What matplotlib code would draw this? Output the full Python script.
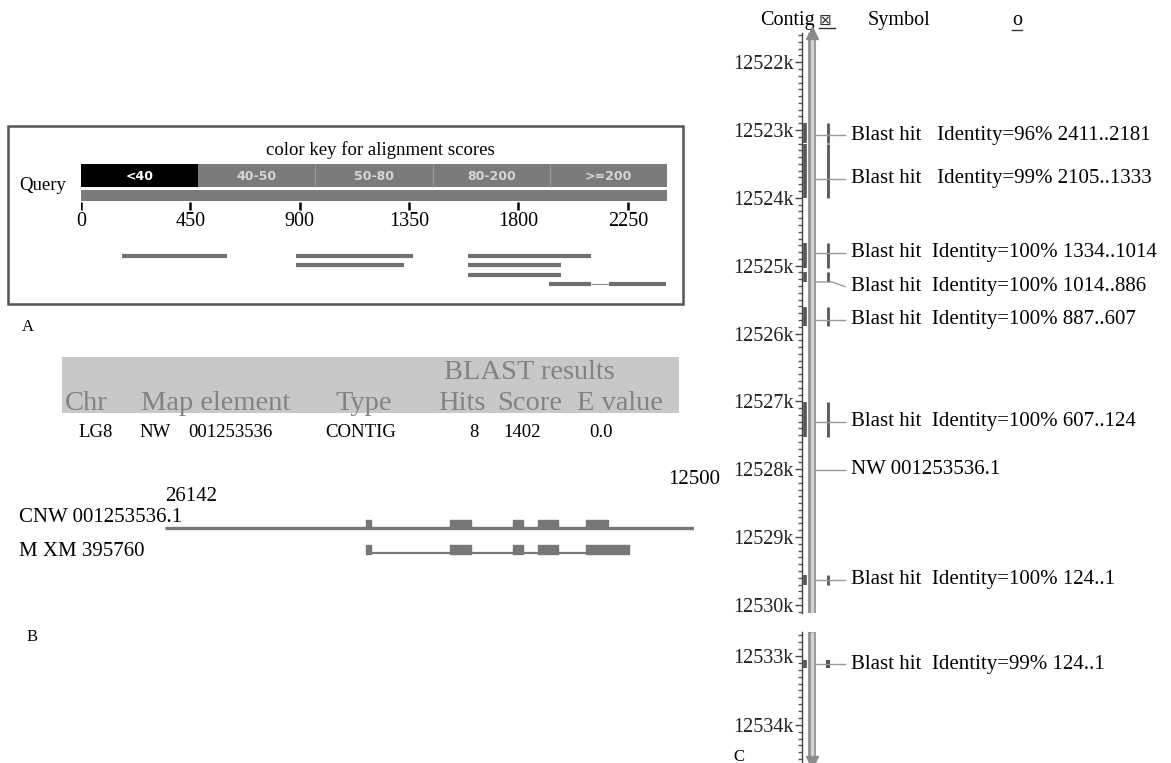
import numpy as np
import matplotlib
matplotlib.use("Agg")
import matplotlib.pyplot as plt
from matplotlib.patches import Rectangle

plt.rcParams['font.family'] = ['Liberation Serif', 'DejaVu Serif']

W, H = 1171, 763

# --- panel A: query coverage ---
query_len = 2411
key_labels = ['<40', '40-50', '50-80', '80-200', '>=200']
query_ticks = [0, 450, 900, 1350, 1800, 2250]
hit_rows = [0, 0, 1, 0, 1, 2]
hit_from = [168, 884, 884, 1594, 1594, 1594]
hit_to = [600, 1368, 1327, 2100, 1973, 1973]
split_hit = [(1927, 2100), (2174, 2408)]  # last row, two pieces

# --- panel B: table and gene model ---
header_top = 'BLAST results'
header_cols = ['Chr', 'Map element', 'Type', 'Hits', 'Score', 'E value']
row_vals = ['LG8', 'NW', '001253536', 'CONTIG', '8', '1402', '0.0']
contig_start, contig_end = 26142, 12500
contig_name = 'CNW 001253536.1'
mrna_name = 'M XM 395760'
contig_exons = [(20958, 20829), (18792, 18251), (17167, 16910),
                (16523, 16420), (16394, 16007), (15285, 14717)]
mrna_exons = [(20958, 20829), (18792, 18251), (17167, 16910),
              (16523, 16420), (16394, 16007), (15285, 14176)]
mrna_span = (20932, 14176)

# --- panel C: contig map (kb) ---
map_ticks_top = list(range(12522, 12531))
map_ticks_bot = [12533, 12534]
hit_start = [12522.90, 12523.21, 12524.67, 12525.09, 12525.61, 12527.01, 12529.56]
hit_end = [12523.19, 12524.00, 12525.03, 12525.24, 12525.89, 12527.52, 12529.70]
hit_label_kb = [12523.075, 12523.72, 12524.81, 12525.31, 12525.80, 12527.30, 12529.63]
hit_text = ['Blast hit   Identity=96% 2411..2181',
            'Blast hit   Identity=99% 2105..1333',
            'Blast hit  Identity=100% 1334..1014',
            'Blast hit  Identity=100% 1014..886',
            'Blast hit  Identity=100% 887..607',
            'Blast hit  Identity=100% 607..124',
            'Blast hit  Identity=100% 124..1']
nw_label = 'NW 001253536.1'
nw_kb = 12528.01
low_hit = (12533.06, 12533.17)
low_label_kb = 12533.12
low_text = 'Blast hit  Identity=99% 124..1'

fig = plt.figure(figsize=(W / 100, H / 100), dpi=100)


def px_axes(x0, y0, x1, y1):
    return fig.add_axes([x0 / W, 1 - y1 / H, (x1 - x0) / W, (y1 - y0) / H])


bg = px_axes(0, 0, W, H)
bg.set_xlim(0, W)
bg.set_ylim(H, 0)
bg.axis('off')

# ---------------- A ----------------
bg.add_patch(Rectangle((8, 126), 675, 178, fill=False, ec='#555555', lw=1.8))
bg.text(380, 150, 'color key for alignment scores', ha='center', va='center', fontsize=13.5)
bg.text(19, 186, 'Query', ha='left', va='center', fontsize=13.5)
bg.text(22, 327, 'A', ha='left', va='center', fontsize=12)

ax_q = px_axes(81, 120, 667, 300)
ax_q.set_xlim(0, query_len)
ax_q.set_ylim(300, 120)
ax_q.axis('off')
edges = np.linspace(0, query_len, len(key_labels) + 1)
for i, lab in enumerate(key_labels):
    c = 'black' if i == 0 else '#7b7b7b'
    ax_q.barh(175.5, edges[i + 1] - edges[i], left=edges[i], height=23, color=c, ec='none')
    ax_q.text((edges[i] + edges[i + 1]) / 2, 176, lab, ha='center', va='center',
              family='DejaVu Sans', fontweight='bold', fontsize=9,
              color='white' if i == 0 else '#d6d6d6')
    if i > 1:
        ax_q.vlines(edges[i], 164, 187, color='#9a9a9a', lw=0.8)
ax_q.barh(195.5, query_len, left=0, height=11, color='#7b7b7b', ec='none')
ax_q.vlines(query_ticks, 202, 210, color='black', lw=1.8)
for t in query_ticks:
    ax_q.text(t, 222, str(t), ha='center', va='center', fontsize=14.5)
for r, a, b in zip(hit_rows, hit_from, hit_to):
    ax_q.hlines(256 + 9.3 * r, a, b, color='#707070', lw=3)
y4 = 256 + 9.3 * 3
for a, b in split_hit:
    ax_q.hlines(y4, a, b, color='#707070', lw=3)
ax_q.hlines(y4, split_hit[0][1], split_hit[1][0], color='#909090', lw=0.8)

# ---------------- B ----------------
bg.add_patch(Rectangle((62, 357), 617, 56, color='#c8c8c8', ec='none'))
bg.text(444, 379, header_top, ha='left', va='baseline', fontsize=20.5, color='#828282')
head_x = [65, 141, 335, 438, 497, 577]
for x, s in zip(head_x, header_cols):
    bg.text(x, 410, s, ha='left', va='baseline', fontsize=20.5, color='#828282')
row_x = [78, 139, 188, 325, 469, 503, 589]
for x, s in zip(row_x, row_vals):
    bg.text(x, 437, s, ha='left', va='baseline', fontsize=13.5)

bg.text(165, 501, str(contig_start), ha='left', va='baseline', fontsize=15)
bg.text(668, 484, str(contig_end), ha='left', va='baseline', fontsize=15)
bg.text(19, 522, contig_name, ha='left', va='baseline', fontsize=15)
bg.text(19, 556, mrna_name, ha='left', va='baseline', fontsize=15)
bg.text(27, 637, 'B', ha='left', va='center', fontsize=12)

ax_g = px_axes(165, 500, 694, 570)
ax_g.set_xlim(contig_start, contig_end)
ax_g.set_ylim(570, 500)
ax_g.axis('off')
ax_g.hlines(527.5, contig_start, contig_end, color='#777777', lw=2.4)
ax_g.broken_barh([(b, a - b) for a, b in contig_exons], (520, 8), color='#777777')
ax_g.hlines(552.5, mrna_span[0], mrna_span[1], color='#777777', lw=1.6)
ax_g.broken_barh([(b, a - b) for a, b in mrna_exons], (545, 8.5), color='#777777')

# ---------------- C ----------------
bg.text(760, 25, 'Contig', ha='left', va='baseline', fontsize=14.5)
bg.text(819, 25, '\u22a0', ha='left', va='baseline', fontsize=11, family='DejaVu Sans', color='#333333')
bg.plot([819, 835], [28, 28], color='#333333', lw=1)
bg.text(868, 25, 'Symbol', ha='left', va='baseline', fontsize=14.5)
bg.text(1012, 25, 'o', ha='left', va='baseline', fontsize=14.5)
bg.plot([1012, 1022], [30, 30], color='#333333', lw=1)
bg.text(733, 757, 'C', ha='left', va='center', fontsize=12)


def map_axes(y0, y1, klo, khi, ticks):
    ax = px_axes(802, y0, W, y1)
    ax.set_xlim(802, W)
    ax.set_ylim(khi, klo)
    for s in ['top', 'right', 'bottom']:
        ax.spines[s].set_visible(False)
    ax.spines['left'].set_color('#444444')
    ax.spines['left'].set_linewidth(1)
    ax.set_xticks([])
    ax.set_yticks(ticks)
    ax.set_yticklabels([f'{t}k' for t in ticks])
    ax.set_yticks(np.arange(np.ceil(klo * 10) / 10, khi, 0.1), minor=True)
    ax.tick_params(axis='y', which='major', length=5, width=1, color='#444444',
                   labelsize=14.5, pad=1, labelcolor='#222222')
    ax.tick_params(axis='y', which='minor', length=3, width=1, color='#555555')
    ax.patch.set_alpha(0)
    # contig bar
    ax.vlines(812, klo, khi, color='#8a8a8a', lw=5.5)
    ax.vlines(812, klo, khi, color='#d4d4d4', lw=2.5)
    return ax


ax_c1 = map_axes(33, 613, 12521.57, 12530.12, map_ticks_top)
ax_c1.plot(812, 12521.57, marker='^', ms=9, color='#8a8a8a', clip_on=False)
for a, b, lk, s in zip(hit_start, hit_end, hit_label_kb, hit_text):
    anchor = min(max(lk, a), b)
    ax_c1.vlines(805, a, b, color='#555555', lw=2.6)
    ax_c1.vlines(828, a, b, color='#555555', lw=2)
    ax_c1.plot([815, 832, 845], [anchor, anchor, lk], color='#999999', lw=1)
    ax_c1.text(851, lk, s, ha='left', va='center', fontsize=15)
ax_c1.plot([815, 845], [nw_kb, nw_kb], color='#999999', lw=1)
ax_c1.text(851, nw_kb, nw_label, ha='left', va='center', fontsize=15)

ax_c2 = map_axes(632, 762, 12532.65, 12534.54, map_ticks_bot)
ax_c2.plot(812, 12534.54, marker='v', ms=9, color='#8a8a8a', clip_on=False)
ax_c2.vlines(805, *low_hit, color='#555555', lw=2.6)
ax_c2.vlines(828, *low_hit, color='#555555', lw=3)
ax_c2.plot([815, 845], [low_label_kb, low_label_kb], color='#999999', lw=1)
ax_c2.text(851, low_label_kb, low_text, ha='left', va='center', fontsize=15)

fig.savefig('out.png', dpi=100, facecolor='white')
